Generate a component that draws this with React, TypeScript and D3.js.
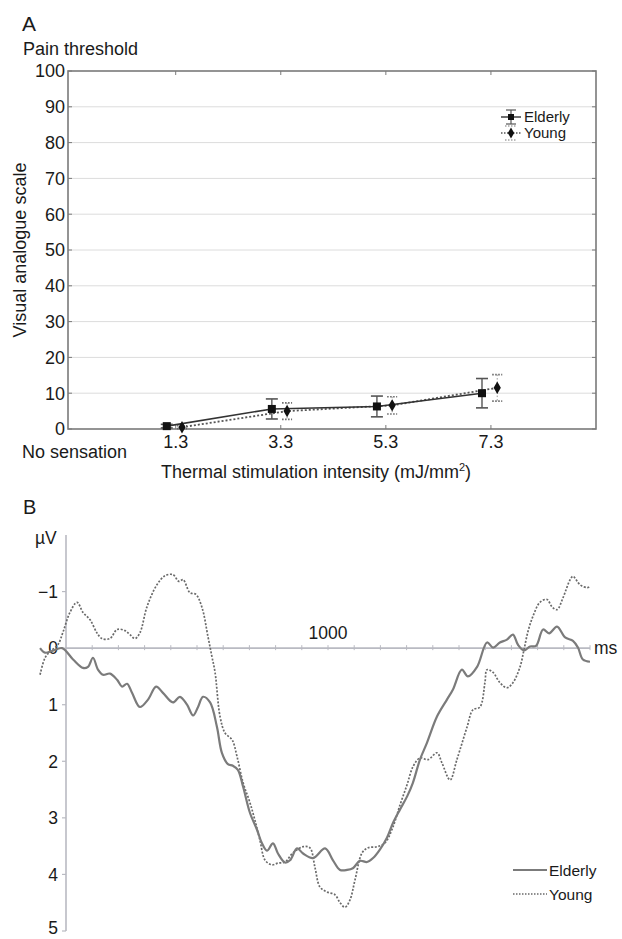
import React, { useEffect, useRef } from 'react';
import * as d3 from 'd3';

// Panel A: VAS ratings per stimulation intensity
const intensities = [1.3, 3.3, 5.3, 7.3];
const elderlyVas = [0.8, 5.6, 6.3, 10.0];
const elderlyErr = [0.5, 2.8, 2.9, 4.1];
const youngVas = [0.5, 5.0, 6.6, 11.5];
const youngErr = [0.4, 2.3, 2.4, 3.7];
const vasTicks = [0, 10, 20, 30, 40, 50, 60, 70, 80, 90, 100];

// Panel B: grand average ERP (ms, µV; negative up)
const elderlyTimes = [
  -99, -80, -53, -15, 27, 65, 84, 103, 122, 141, 168, 195, 214, 233, 252, 282, 313, 344, 370, 408,
  435, 462, 485, 504, 523, 550, 576, 595, 618, 637, 656, 676, 702, 729, 748, 767, 790, 809, 836, 855,
  882, 905, 943, 989, 1019, 1046, 1073, 1095, 1122, 1149, 1172, 1198, 1225, 1248, 1275, 1302, 1324,
  1351, 1378, 1416, 1454, 1477, 1511, 1534, 1569, 1607, 1630, 1656, 1683, 1706, 1725, 1748, 1771,
  1794, 1821, 1844, 1874, 1905, 1935, 1954, 1973, 2000,
];
const elderlyUv = [
  0.0, 0.08, 0.05, 0.0, 0.2, 0.35, 0.33, 0.17, 0.38, 0.47, 0.45, 0.56, 0.68, 0.63, 0.79, 1.04, 0.91,
  0.68, 0.79, 0.96, 0.86, 1.0, 1.19, 1.04, 0.86, 0.96, 1.39, 1.85, 2.05, 2.08, 2.15, 2.45, 2.91, 3.21,
  3.45, 3.58, 3.45, 3.63, 3.79, 3.75, 3.54, 3.63, 3.71, 3.54, 3.75, 3.92, 3.92, 3.89, 3.76, 3.78,
  3.71, 3.56, 3.35, 3.09, 2.85, 2.62, 2.38, 1.97, 1.67, 1.21, 0.91, 0.73, 0.38, 0.5, 0.33, -0.1,
  -0.01, -0.1, -0.15, -0.24, -0.06, 0.04, -0.03, -0.04, -0.33, -0.26, -0.38, -0.19, -0.13, -0.01,
  0.2, 0.24,
];
const youngTimes = [
  -99, -80, -61, -31, -11, 15, 42, 65, 92, 118, 137, 168, 195, 225, 244, 263, 282, 309, 347, 378,
  408, 431, 447, 473, 496, 519, 542, 557, 569, 588, 607, 634, 653, 676, 702, 721, 740, 760, 786, 809,
  836, 866, 905, 931, 950, 969, 996, 1027, 1046, 1065, 1084, 1103, 1130, 1153, 1187, 1218, 1248,
  1275, 1302, 1324, 1351, 1382, 1416, 1435, 1466, 1492, 1531, 1553, 1580, 1599, 1607, 1630, 1656,
  1683, 1706, 1733, 1748, 1763, 1782, 1809, 1836, 1855, 1874, 1897, 1924, 1935, 1962, 1989, 2000,
];
const youngUv = [
  0.47, 0.17, 0.06, -0.06, -0.29, -0.63, -0.81, -0.63, -0.5, -0.27, -0.17, -0.17, -0.33, -0.31,
  -0.24, -0.17, -0.27, -0.73, -1.12, -1.28, -1.3, -1.18, -1.21, -0.98, -0.95, -0.72, -0.2, 0.15,
  0.43, 1.21, 1.5, 1.62, 1.92, 2.38, 2.73, 3.04, 3.39, 3.75, 3.83, 3.8, 3.78, 3.62, 3.51, 3.53, 3.87,
  4.22, 4.31, 4.36, 4.5, 4.58, 4.45, 4.1, 3.62, 3.53, 3.51, 3.44, 3.16, 2.77, 2.41, 2.1, 1.94, 1.97,
  1.85, 2.03, 2.33, 1.97, 1.39, 1.09, 1.04, 0.61, 0.38, 0.43, 0.61, 0.7, 0.61, 0.33, 0.03, -0.29,
  -0.56, -0.81, -0.86, -0.73, -0.68, -0.89, -1.21, -1.27, -1.12, -1.07, -1.09,
];
const uvTicks = [-1, 0, 1, 2, 3, 4, 5];

const FONT = '"Liberation Sans", Arial, Helvetica, sans-serif';
const INK = '#1a1a1a';

const App: React.FC = () => {
  const svgRef = useRef<SVGSVGElement>(null);

  useEffect(() => {
    if (!svgRef.current) return;
    const svg = d3.select(svgRef.current);
    svg.selectAll('*').remove();
    svg.attr('font-family', FONT);

    // ---------- Panel A ----------
    const xA = d3.scaleLinear().domain([-0.75, 9.3]).range([68, 596]);
    const yA = d3.scaleLinear().domain([0, 100]).range([429, 71]);
    const a = svg.append('g');
    const fsA = 18;

    a.append('text').attr('x', 22).attr('y', 31).attr('font-size', 21).attr('fill', INK).text('A');
    a.append('text').attr('x', 23).attr('y', 55).attr('font-size', fsA).attr('fill', INK).text('Pain threshold');

    // gridlines
    vasTicks.slice(1, -1).forEach(t => {
      a.append('line')
        .attr('x1', xA(-0.75)).attr('x2', xA(9.3))
        .attr('y1', yA(t)).attr('y2', yA(t))
        .attr('stroke', '#dcdcdc').attr('stroke-width', 1);
    });

    // frame
    a.append('rect')
      .attr('x', xA(-0.75)).attr('y', yA(100))
      .attr('width', xA(9.3) - xA(-0.75)).attr('height', yA(0) - yA(100))
      .attr('fill', 'none').attr('stroke', '#7a7a7a').attr('stroke-width', 1.6);

    // inner ticks + labels
    vasTicks.forEach(t => {
      a.append('line').attr('x1', xA(-0.75)).attr('x2', xA(-0.75) + 4)
        .attr('y1', yA(t)).attr('y2', yA(t)).attr('stroke', '#7a7a7a');
      a.append('line').attr('x1', xA(9.3)).attr('x2', xA(9.3) - 4)
        .attr('y1', yA(t)).attr('y2', yA(t)).attr('stroke', '#7a7a7a');
      a.append('text')
        .attr('x', 65).attr('y', yA(t)).attr('dy', '0.36em')
        .attr('text-anchor', 'end').attr('font-size', fsA).attr('fill', INK)
        .text(String(t));
    });
    intensities.forEach(v => {
      a.append('line').attr('x1', xA(v)).attr('x2', xA(v))
        .attr('y1', yA(0)).attr('y2', yA(0) - 4).attr('stroke', '#7a7a7a');
      a.append('line').attr('x1', xA(v)).attr('x2', xA(v))
        .attr('y1', yA(100)).attr('y2', yA(100) + 4).attr('stroke', '#7a7a7a');
      a.append('text')
        .attr('x', xA(v)).attr('y', 448)
        .attr('text-anchor', 'middle').attr('font-size', fsA).attr('fill', INK)
        .text(String(v));
    });

    a.append('text').attr('x', 22).attr('y', 458).attr('font-size', fsA).attr('fill', INK).text('No sensation');

    const xt = a.append('text')
      .attr('x', 316).attr('y', 478)
      .attr('text-anchor', 'middle').attr('font-size', fsA).attr('fill', INK);
    xt.append('tspan').text('Thermal stimulation intensity (mJ/mm');
    xt.append('tspan').attr('font-size', 11).attr('dy', -7).text('2');
    xt.append('tspan').attr('dy', 7).text(')');

    a.append('text')
      .attr('transform', `translate(26,${(yA(0) + yA(100)) / 2}) rotate(-90)`)
      .attr('text-anchor', 'middle').attr('font-size', fsA).attr('fill', INK)
      .text('Visual analogue scale');

    const lineA = d3.line<[number, number]>().x(d => d[0]).y(d => d[1]);
    const eOff = -0.17;
    const yOff = 0.12;

    const ePts: [number, number][] = intensities.map((v, i) => [xA(v + eOff), yA(elderlyVas[i])]);
    const yPts: [number, number][] = intensities.map((v, i) => [xA(v + yOff), yA(youngVas[i])]);

    a.append('path').datum(yPts).attr('d', lineA)
      .attr('fill', 'none').attr('stroke', '#555').attr('stroke-width', 1.8)
      .attr('stroke-dasharray', '2,2');
    a.append('path').datum(ePts).attr('d', lineA)
      .attr('fill', 'none').attr('stroke', '#333').attr('stroke-width', 1.6);

    // error bars
    intensities.forEach((v, i) => {
      const ex = xA(v + eOff);
      const top = yA(elderlyVas[i] + elderlyErr[i]);
      const bot = yA(Math.max(0, elderlyVas[i] - elderlyErr[i]));
      a.append('line').attr('x1', ex).attr('x2', ex).attr('y1', top).attr('y2', bot)
        .attr('stroke', '#555').attr('stroke-width', 1.4);
      [top, bot].forEach(yy => {
        a.append('line').attr('x1', ex - 6).attr('x2', ex + 6).attr('y1', yy).attr('y2', yy)
          .attr('stroke', '#555').attr('stroke-width', 1.6);
      });

      const yx = xA(v + yOff);
      const ytop = yA(youngVas[i] + youngErr[i]);
      const ybot = yA(Math.max(0, youngVas[i] - youngErr[i]));
      a.append('line').attr('x1', yx).attr('x2', yx).attr('y1', ytop).attr('y2', ybot)
        .attr('stroke', '#999').attr('stroke-width', 1).attr('stroke-dasharray', '1.5,2');
      [ytop, ybot].forEach(yy => {
        a.append('line').attr('x1', yx - 5).attr('x2', yx + 5).attr('y1', yy).attr('y2', yy)
          .attr('stroke', '#666').attr('stroke-width', 1.6).attr('stroke-dasharray', '1.5,1.5');
      });
    });

    ePts.forEach(p => {
      a.append('rect').attr('x', p[0] - 4).attr('y', p[1] - 4).attr('width', 8).attr('height', 8)
        .attr('fill', '#111');
    });
    const diamond = d3.symbol().type(d3.symbolDiamond).size(45);
    yPts.forEach(p => {
      a.append('path').attr('d', diamond()).attr('transform', `translate(${p[0]},${p[1]})`)
        .attr('fill', '#111');
    });

    // legend A
    const lg = a.append('g');
    lg.append('line').attr('x1', 501).attr('x2', 521).attr('y1', 117).attr('y2', 117)
      .attr('stroke', '#333').attr('stroke-width', 1.4);
    lg.append('line').attr('x1', 511).attr('x2', 511).attr('y1', 110).attr('y2', 124)
      .attr('stroke', '#555').attr('stroke-width', 1.2);
    [110, 124].forEach(yy => lg.append('line').attr('x1', 506).attr('x2', 516).attr('y1', yy).attr('y2', yy)
      .attr('stroke', '#555').attr('stroke-width', 1.2));
    lg.append('rect').attr('x', 508).attr('y', 114).attr('width', 6).attr('height', 6).attr('fill', '#111');
    lg.append('text').attr('x', 524).attr('y', 117).attr('dy', '0.36em')
      .attr('font-size', 15).attr('fill', INK).text('Elderly');

    lg.append('line').attr('x1', 501).attr('x2', 521).attr('y1', 133).attr('y2', 133)
      .attr('stroke', '#555').attr('stroke-width', 1.4).attr('stroke-dasharray', '1.5,1.5');
    [126, 140].forEach(yy => lg.append('line').attr('x1', 505).attr('x2', 517).attr('y1', yy).attr('y2', yy)
      .attr('stroke', '#777').attr('stroke-width', 1.2).attr('stroke-dasharray', '1.5,1.5'));
    lg.append('path').attr('d', d3.symbol().type(d3.symbolDiamond).size(35)())
      .attr('transform', 'translate(511,133)').attr('fill', '#111');
    lg.append('text').attr('x', 524).attr('y', 133).attr('dy', '0.36em')
      .attr('font-size', 15).attr('fill', INK).text('Young');

    // ---------- Panel B ----------
    const xB = d3.scaleLinear().domain([0, 2000]).range([66, 590]);
    const yB = d3.scaleLinear().domain([-2, 5]).range([535, 931]);
    const b = svg.append('g');
    const fsB = 17.5;

    b.append('text').attr('x', 23).attr('y', 514).attr('font-size', 20).attr('fill', INK).text('B');
    b.append('text').attr('x', 35).attr('y', 544).attr('font-size', fsB).attr('fill', INK).text('\u00b5V');

    const axisCol = '#b9bac2';
    b.append('line').attr('x1', xB(0)).attr('x2', xB(0)).attr('y1', yB(-2)).attr('y2', yB(5))
      .attr('stroke', axisCol).attr('stroke-width', 1.6);
    b.append('line').attr('x1', xB(0)).attr('x2', xB(2000)).attr('y1', yB(0)).attr('y2', yB(0))
      .attr('stroke', axisCol).attr('stroke-width', 1.6);

    uvTicks.forEach(t => {
      b.append('line').attr('x1', xB(0) - 4).attr('x2', xB(0)).attr('y1', yB(t)).attr('y2', yB(t))
        .attr('stroke', axisCol).attr('stroke-width', 1.2);
      b.append('text').attr('x', 58).attr('y', Math.min(yB(t), 928)).attr('dy', '0.36em')
        .attr('text-anchor', 'end').attr('font-size', fsB).attr('fill', INK)
        .text(t < 0 ? `\u2212${Math.abs(t)}` : String(t));
    });
    d3.range(100, 2001, 100).forEach(t => {
      b.append('line').attr('x1', xB(t)).attr('x2', xB(t)).attr('y1', yB(0) - 3).attr('y2', yB(0) + 2)
        .attr('stroke', axisCol).attr('stroke-width', 1);
    });
    b.append('text').attr('x', xB(1000)).attr('y', 639).attr('text-anchor', 'middle')
      .attr('font-size', fsB).attr('fill', INK).text('1000');
    b.append('text').attr('x', 594).attr('y', yB(0)).attr('dy', '0.36em')
      .attr('font-size', fsB).attr('fill', INK).text('ms');

    const elderlyLine = d3.line<number>()
      .x((_d, i) => xB(elderlyTimes[i]))
      .y(d => yB(d))
      .curve(d3.curveCatmullRom.alpha(0.5));
    const youngLine = d3.line<number>()
      .x((_d, i) => xB(youngTimes[i]))
      .y(d => yB(d))
      .curve(d3.curveCatmullRom.alpha(0.5));

    b.append('path').attr('d', youngLine(youngUv))
      .attr('fill', 'none').attr('stroke', '#6a6a6a').attr('stroke-width', 1.7)
      .attr('stroke-dasharray', '2,1.6');
    b.append('path').attr('d', elderlyLine(elderlyUv))
      .attr('fill', 'none').attr('stroke', '#7b7b7b').attr('stroke-width', 2.2);

    // legend B
    b.append('line').attr('x1', 513).attr('x2', 547).attr('y1', 870).attr('y2', 870)
      .attr('stroke', '#7b7b7b').attr('stroke-width', 2.2);
    b.append('text').attr('x', 549).attr('y', 870).attr('dy', '0.36em')
      .attr('font-size', 15.5).attr('fill', INK).text('Elderly');
    b.append('line').attr('x1', 513).attr('x2', 547).attr('y1', 894).attr('y2', 894)
      .attr('stroke', '#6a6a6a').attr('stroke-width', 1.5).attr('stroke-dasharray', '1.5,1.5');
    b.append('text').attr('x', 549).attr('y', 894).attr('dy', '0.36em')
      .attr('font-size', 15.5).attr('fill', INK).text('Young');
  }, []);

  return (
    <svg
      ref={svgRef}
      width={622}
      height={939}
      style={{ position: 'absolute', left: 0, top: 0, background: '#fff' }}
      role="img"
      aria-label="Pain ratings and ERP waveforms for elderly and young groups"
    />
  );
};

export default App;
